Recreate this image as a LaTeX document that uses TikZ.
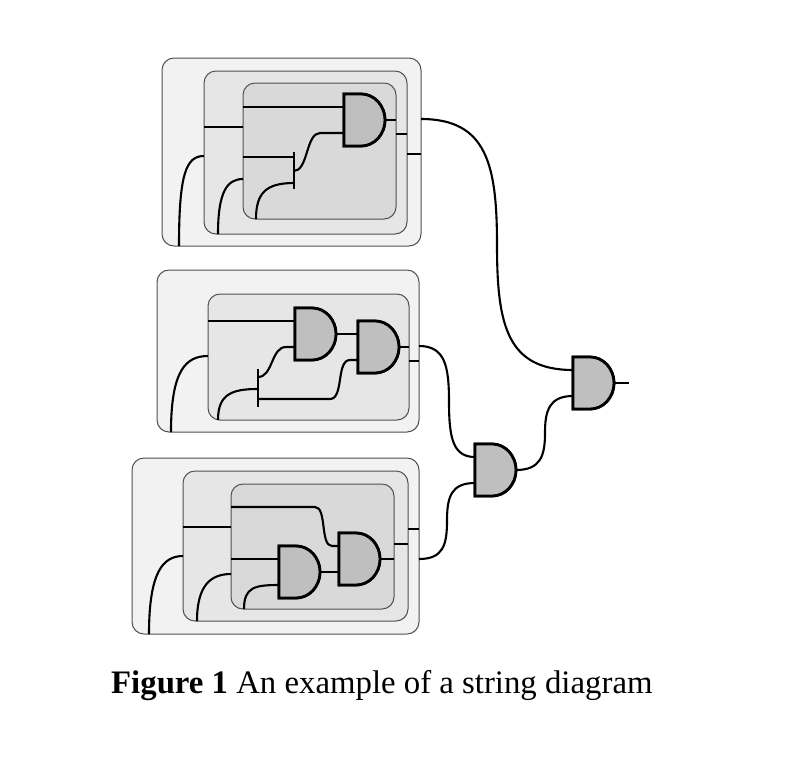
\documentclass[tikz,border=0pt]{standalone}
\usepackage{fontspec}
\setmainfont{Liberation Serif}
\usetikzlibrary{calc}
\definecolor{lvlA}{HTML}{F2F2F2}
\definecolor{lvlB}{HTML}{E6E6E6}
\definecolor{lvlC}{HTML}{D9D9D9}
\definecolor{gatefill}{HTML}{BFBFBF}
\definecolor{boxline}{HTML}{505050}
\tikzset{
  boxbase/.style={draw=boxline, line width=1pt, rounded corners=12pt, anchor=north west, inner sep=0pt, outer sep=0pt},
  boxA/.style={boxbase, fill=lvlA},
  boxB/.style={boxbase, fill=lvlB},
  boxC/.style={boxbase, fill=lvlC},
  wire/.style={line width=2.1pt, line cap=butt},
  barline/.style={line width=2.8pt},
  gatestyle/.style={draw, fill=gatefill, line width=2.8pt, line join=miter},
  andgate/.pic={
    \draw[gatestyle] (0,-26) -- (17,-26) .. controls (30.25,-26) and (41,-14.36) .. (41,0)
       .. controls (41,14.36) and (30.25,26) .. (17,26) -- (0,26) -- cycle;
    \coordinate (-in1) at (0,-13);
    \coordinate (-in2) at (0,13);
    \coordinate (-out) at (41,0);
  }
}
\begin{document}
\begin{tikzpicture}[x=1pt, y=-1pt]
\useasboundingbox (0,0) rectangle (808,756);

% ---------------- boxes ----------------
\node[boxA, minimum width=259pt, minimum height=188pt] (A0) at (162,58) {};
\node[boxB, minimum width=203pt, minimum height=163pt] (A1) at (204,71) {};
\node[boxC, minimum width=153pt, minimum height=136pt] (A2) at (243,83) {};

\node[boxA, minimum width=262pt, minimum height=162pt] (B0) at (157,270) {};
\node[boxB, minimum width=201pt, minimum height=126pt] (B1) at (208,294) {};

\node[boxA, minimum width=287pt, minimum height=176pt] (C0) at (132,458) {};
\node[boxB, minimum width=225pt, minimum height=150pt] (C1) at (183,471) {};
\node[boxC, minimum width=163pt, minimum height=125pt] (C2) at (231,484) {};

% ---------------- gate terminals (gates drawn later) ----------------
\pic (gA) at (344,120) {andgate};
\pic (gB1) at (295,334) {andgate};
\pic (gB2) at (358,347) {andgate};
\pic (gC1) at (279,572) {andgate};
\pic (gC2) at (339,559) {andgate};
\pic (gC) at (475,470) {andgate};
\pic (gD) at (573,383) {andgate};

% ---------------- coordinates ----------------
% top block
\coordinate (A2l1) at (243,107);
\coordinate (A2r)  at (396,120);
\coordinate (A2r2) at (396,134);
\coordinate (A1r2) at (407,134);
\coordinate (A1r3) at (407,154);
\coordinate (A0r)  at (421,154);
\coordinate (A1l)  at (204,127);
\coordinate (A2l2) at (243,127);
\coordinate (A2l3) at (243,157);
\coordinate (bAt)  at (294,152);
\coordinate (bAb)  at (294,189);
\coordinate (bA1)  at (294,157);
\coordinate (bA2)  at (294,183);
\coordinate (bAo)  at (294,171);
\coordinate (A2j)  at (320,133);
\coordinate (A2b)  at (256,219);
\coordinate (A1b)  at (218,234);
\coordinate (A2l4) at (243,179);
\coordinate (A0b)  at (179,246);
\coordinate (A1l2) at (204,156);
\coordinate (A0o)  at (421,119);
% middle block
\coordinate (B1l1) at (208,321);
\coordinate (B1r)  at (409,347);
\coordinate (B1r2) at (409,361);
\coordinate (B0r)  at (419,361);
\coordinate (bBt)  at (258,369);
\coordinate (bBb)  at (258,407);
\coordinate (bB1)  at (258,389);
\coordinate (bBo1) at (258,377);
\coordinate (bBo2) at (258,399);
\coordinate (Bj1)  at (286,347);
\coordinate (Bj2)  at (330,399);
\coordinate (Bj3)  at (350,360);
\coordinate (B1b)  at (218,420);
\coordinate (B0b)  at (171,432);
\coordinate (B1l2) at (208,356);
\coordinate (B0o)  at (419,346);
% bottom block
\coordinate (C2l1) at (231,559);
\coordinate (C2b)  at (244,609);
\coordinate (C2l2) at (231,507);
\coordinate (Cj1)  at (315,507);
\coordinate (Cj2)  at (332,546);
\coordinate (C2r)  at (394,559);
\coordinate (C2r2) at (394,544);
\coordinate (C1r)  at (408,544);
\coordinate (C1r2) at (408,529);
\coordinate (C0r)  at (419,529);
\coordinate (C1l)  at (183,527);
\coordinate (C2l3) at (231,527);
\coordinate (C1b)  at (197,621);
\coordinate (C2l4) at (231,574);
\coordinate (C0b)  at (149,634);
\coordinate (C1l2) at (183,556);
\coordinate (C0o)  at (419,559);
% links between blocks
\coordinate (mAD) at (497,245);
\coordinate (mBC) at (449,402);
\coordinate (mCC) at (447,521);
\coordinate (mCD) at (545,433);
\coordinate (Dout) at (629,383);

% ---------------- wires: top block ----------------
\draw[wire] (A2l1) -- (gA-in1);
\draw[wire] (gA-out) -- (A2r);
\draw[wire] (A2r2) -- (A1r2);
\draw[wire] (A1r3) -- (A0r);
\draw[wire] (A1l) -- (A2l2);
\draw[wire] (A2l3) -- (bA1);
\draw[wire] (A2b) .. controls +(0,-26) and +(-28,0) .. (bA2);
\draw[wire] (bAo) .. controls +(14,0) and +(-14,0) .. (A2j) -- (gA-in2);
\draw[wire] (A1b) .. controls +(0,-42) and +(-16,0) .. (A2l4);
\draw[wire] (A0b) .. controls +(0,-72) and +(-18,0) .. (A1l2);
\draw[barline] (bAt) -- (bAb);

% ---------------- wires: middle block ----------------
\draw[wire] (B1l1) -- (gB1-in1);
\draw[wire] (gB1-out) -- (gB2-in1);
\draw[wire] (gB2-out) -- (B1r);
\draw[wire] (B1r2) -- (B0r);
\draw[wire] (B1b) .. controls +(0,-26) and +(-26,0) .. (bB1);
\draw[wire] (bBo1) .. controls +(15,0) and +(-15,0) .. (Bj1) -- (gB1-in2);
\draw[wire] (bBo2) -- (Bj2) .. controls +(14,0) and +(-14,0) .. (Bj3) -- (gB2-in2);
\draw[wire] (B0b) .. controls +(0,-62) and +(-22,0) .. (B1l2);
\draw[barline] (bBt) -- (bBb);

% ---------------- wires: bottom block ----------------
\draw[wire] (C2l1) -- (gC1-in1);
\draw[wire] (C2b) .. controls +(0,-22) and +(-24,0) .. (gC1-in2);
\draw[wire] (C2l2) -- (Cj1) .. controls +(12,0) and +(-12,0) .. (Cj2) -- (gC2-in1);
\draw[wire] (gC1-out) -- (gC2-in2);
\draw[wire] (gC2-out) -- (C2r);
\draw[wire] (C2r2) -- (C1r);
\draw[wire] (C1r2) -- (C0r);
\draw[wire] (C1l) -- (C2l3);
\draw[wire] (C1b) .. controls +(0,-36) and +(-20,0) .. (C2l4);
\draw[wire] (C0b) .. controls +(0,-62) and +(-20,0) .. (C1l2);

% ---------------- wires between blocks ----------------
\draw[wire] (A0o) .. controls +(66,0) and +(0,-80) .. (mAD)
                  .. controls +(0,80) and +(-66,0) .. (gD-in1);
\draw[wire] (B0o) .. controls +(26,0) and +(0,-36) .. (mBC)
                  .. controls +(0,36) and +(-22,0) .. (gC-in1);
\draw[wire] (C0o) .. controls +(24,0) and +(0,24) .. (mCC)
                  .. controls +(0,-24) and +(-24,0) .. (gC-in2);
\draw[wire] (gC-out) .. controls +(25,0) and +(0,22) .. (mCD)
                     .. controls +(0,-22) and +(-24,0) .. (gD-in2);
\draw[wire] (gD-out) -- (Dout);

% gates on top of the wires
\pic at (344,120) {andgate};
\pic at (295,334) {andgate};
\pic at (358,347) {andgate};
\pic at (279,572) {andgate};
\pic at (339,559) {andgate};
\pic at (475,470) {andgate};
\pic at (573,383) {andgate};

% ---------------- caption ----------------
\node[anchor=base west, inner sep=0pt, font=\fontsize{32.8}{39}\selectfont] (cap) at (111,693)
  {\textbf{Figure 1} An example of a string diagram};
\end{tikzpicture}
\end{document}
